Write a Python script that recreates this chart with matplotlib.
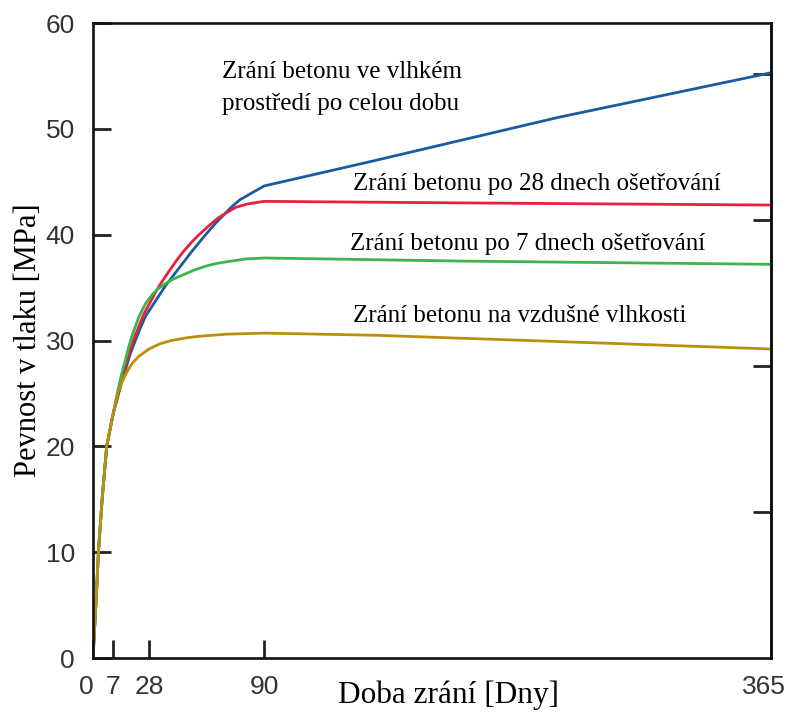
import matplotlib
matplotlib.use('Agg')
import matplotlib.pyplot as plt
import matplotlib.transforms as mtransforms
import numpy as np

# data (days, MPa)
moist_days = [0, 0.6, 1.2, 1.9, 3.2, 4.8, 7, 10, 12, 14, 17, 20, 23, 26, 31, 37, 44, 51, 58, 64, 69, 73, 77, 82, 86, 90, 150, 250, 365]
moist_mpa = [0, 3, 6, 10, 15, 20, 23, 24.8, 26, 27.1, 28.7, 30, 31.2, 32.3, 33.6, 35.2, 36.8, 38.4, 39.9, 41.1, 42.0, 42.7, 43.3, 43.8, 44.2, 44.6, 47.0, 51.1, 55.3]

cure28_days = [0, 0.6, 1.2, 1.9, 3.2, 4.8, 7, 10, 12, 14, 17, 20, 25, 28.6, 31, 34, 39, 43, 47, 51, 55, 60, 65, 70, 75, 81, 90, 200, 365]
cure28_mpa = [0, 3, 6, 10, 15, 20, 23, 25.1, 26.3, 27.5, 29.1, 30.5, 32.5, 33.6, 34.4, 35.3, 36.6, 37.6, 38.5, 39.3, 40.0, 40.8, 41.55, 42.1, 42.6, 42.9, 43.15, 43.0, 42.8]

cure7_days = [0, 0.6, 1.2, 1.9, 3.2, 4.8, 7, 10, 12, 14, 16, 18, 22, 26, 30, 33, 37, 41, 45, 53, 60, 65, 72, 80, 90, 200, 365]
cure7_mpa = [0, 3, 6, 10, 15, 20, 23, 25.4, 26.8, 28.0, 29.3, 30.4, 32.2, 33.5, 34.4, 34.9, 35.4, 35.8, 36.1, 36.7, 37.1, 37.3, 37.5, 37.7, 37.8, 37.5, 37.2]

air_days = [0, 0.6, 1.2, 1.9, 3.2, 4.8, 7, 9, 10, 12, 15, 18, 22, 28, 34, 40, 48, 55, 70, 90, 150, 250, 365]
air_mpa = [0, 3, 6, 10, 15, 20, 23, 24.5, 25.1, 26.0, 27.0, 27.8, 28.5, 29.2, 29.7, 30.0, 30.25, 30.4, 30.6, 30.7, 30.5, 29.9, 29.2]

x_ticks = [0, 7, 28, 90, 365]
y_ticks = [0, 10, 20, 30, 40, 50, 60]
ksi_ticks = [2, 4, 6, 8]

# the day axis is stretched a little at the start
sc_days = [-1000, 0, 7, 28, 90, 365, 2000]
sc_pos = [-2857, 0, 20, 56, 171, 678, 3692]


def fwd(x):
    return np.interp(x, sc_days, sc_pos)


def inv(p):
    return np.interp(p, sc_pos, sc_days)


plt.rcParams['font.family'] = ['Liberation Serif', 'DejaVu Serif']

fig = plt.figure(figsize=(7.86, 7.15), dpi=100)
ax = fig.add_axes([0.1183, 0.0797, 0.8627, 0.8881])
ax.set_xscale('function', functions=(fwd, inv))

lw = 2.0
ax.plot(moist_days, moist_mpa, color='#1a5c9e', lw=lw)
ax.plot(cure28_days, cure28_mpa, color='#e8213a', lw=lw)
ax.plot(cure7_days, cure7_mpa, color='#3db54a', lw=lw)
ax.plot(air_days, air_mpa, color='#b8900c', lw=lw)

ax.set_xlim(0, 365)
ax.set_ylim(0, 60)
ax.set_xticks(x_ticks)
ax.set_yticks(y_ticks)

tick_font = dict(family='Liberation Sans', size=19, color='#333333')
ax.set_xticklabels([str(t) for t in x_ticks], **tick_font)
ax.set_yticklabels([str(t) for t in y_ticks], **tick_font)
ax.tick_params(direction='in', length=13, width=2.0, color='#222222')
ax.tick_params(axis='x', pad=12)
ax.tick_params(axis='y', pad=13)

# the end labels sit a bit to the left in the original
shift = mtransforms.ScaledTranslation(-0.07, 0, fig.dpi_scale_trans)
xlabels = ax.get_xticklabels()
for lab in (xlabels[0], xlabels[-1]):
    lab.set_transform(lab.get_transform() + shift)

for s in ax.spines.values():
    s.set_linewidth(1.9)
    s.set_color('#111111')

# right side: ksi ticks without labels
sec = ax.secondary_yaxis('right', functions=(lambda m: m / 6.895, lambda k: k * 6.895))
sec.set_yticks(ksi_ticks)
sec.set_yticklabels([])
sec.tick_params(direction='in', length=13, width=2.0, color='#222222')
sec.spines['right'].set_linewidth(1.9)

ax.set_xlabel('Doba zrání [Dny]', fontsize=22.5)
ax.xaxis.set_label_coords(0.525, -0.036)
ax.set_ylabel('Pevnost v tlaku [MPa]', fontsize=22)
ax.yaxis.set_label_coords(-0.073, 0.5)

txt = dict(transform=ax.transAxes, fontsize=18, ha='left', va='baseline')
ax.text(0.190, 0.913, 'Zrání betonu ve vlhkém', **txt)
ax.text(0.190, 0.863, 'prostředí po celou dobu', **txt)
ax.text(0.383, 0.737, 'Zrání betonu po 28 dnech ošetřování', **txt)
ax.text(0.379, 0.643, 'Zrání betonu po 7 dnech ošetřování', **txt)
ax.text(0.383, 0.529, 'Zrání betonu na vzdušné vlhkosti', **txt)

fig.savefig('out.png', dpi=100)
